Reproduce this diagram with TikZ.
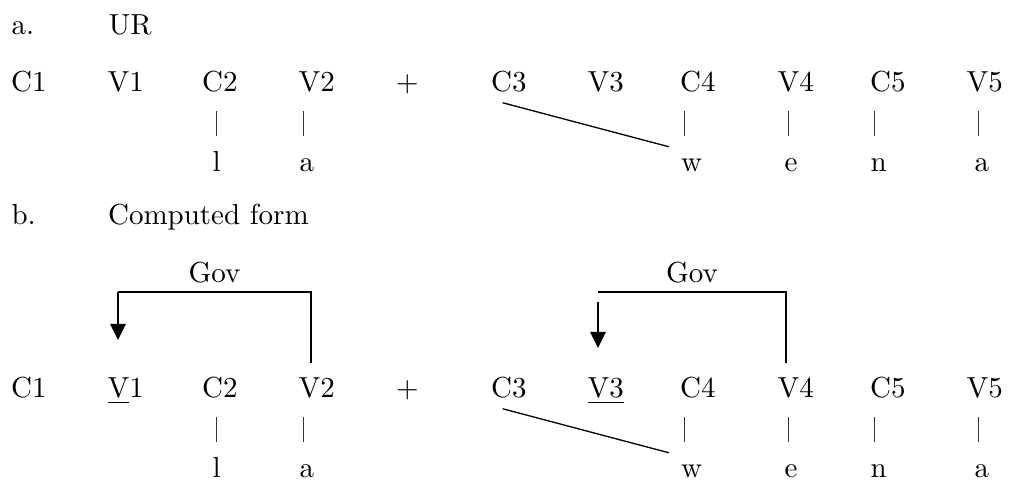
\documentclass[tikz,border=0pt]{standalone}
\usepackage{fontspec}
\usetikzlibrary{arrows.meta,calc}

\begin{document}
\begin{tikzpicture}[
  x=0.345pt, y=0.345pt,
  seg/.style={inner sep=0pt, anchor=base west},
  mel/.style={seg, text height=7pt},
  assoc/.style={line width=0.3pt, black!80, shorten <=5.2pt, shorten >=6.2pt},
  link/.style={line width=0.45pt},
  govline/.style={line width=0.45pt},
  govarr/.style={-{Triangle[width=5.3pt,length=5.6pt]}, line width=0.9pt}
]
\useasboundingbox (0,0) rectangle (1010,480);

% headings
\node[seg] (exa) at (11,445) {a.};
\node[seg] (ura) at (108,445) {UR};
\node[seg] (exb) at (11,255) {b.};
\node[seg] (cfb) at (107.5,255) {Computed form};

% a. UR
\foreach \n/\x/\t in {C1/10.5/C1, V1/107/V1, C2/201.5/C2, V2/298/V2, P/395.5/$+$,
                      C3/490.5/C3, V3/587/V3, C4/679.5/C4, V4/777/V4, C5/869.5/C5, V5/966/V5}
  \node[seg] (\n a) at (\x,388) {\t};
\foreach \n/\x/\t in {C2/212/l, V2/299/a, C4/680.5/w, V4/784/e, C5/870/n, V5/974/a} {
  \node[mel] (m\n a) at (\x,308) {\t};
  \draw[assoc] ([xshift=1.4pt]m\n a.north west) -- ($(m\n a.north west |- \n a.south)+(1.4pt,0)$);
}
\draw[link] ([xshift=-2.1pt,yshift=-3.3pt]C3a.south) -- ([xshift=-4pt,yshift=1.5pt]mC4a.north west);

% b. computed form
\foreach \n/\x/\t in {C1/10.5/C1, V1/107/{\underline{V}1}, C2/201.5/C2, V2/298/V2, P/395.5/$+$,
                      C3/490.5/C3, V3/587/{\underline{V3}}, C4/679.5/C4, V4/777/V4, C5/869.5/C5, V5/966/V5}
  \node[seg] (\n b) at (\x,82) {\t};
\foreach \n/\x/\t in {C2/212/l, V2/299/a, C4/680.5/w, V4/784/e, C5/870/n, V5/974/a} {
  \node[mel] (m\n b) at (\x,2) {\t};
  \draw[assoc] ([xshift=1.4pt]m\n b.north west) -- ($(m\n b.north west |- \n b.south)+(1.4pt,0)$);
}
\draw[link] ([xshift=-2.1pt,yshift=-3.3pt]C3b.south) -- ([xshift=-4pt,yshift=1.5pt]mC4b.north west);

% government
\draw[govline] ($(V2b.base west)+(13,35)$) |- ($(V1b.base west)+(11,106)$)
  node[pos=0.75, above, inner sep=2.8pt] (gov1) {Gov};
\draw[govarr] ($(V1b.base west)+(11,106)$) -- ($(V1b.base west)+(11,58)$);
\draw[govline] ($(V4b.base west)+(9,35)$) |- ($(V3b.base west)+(11,106)$)
  node[pos=0.75, above, inner sep=2.8pt] (gov2) {Gov};
\draw[govarr] ($(V3b.base west)+(11,96)$) -- ($(V3b.base west)+(11,50)$);
\end{tikzpicture}
\end{document}
